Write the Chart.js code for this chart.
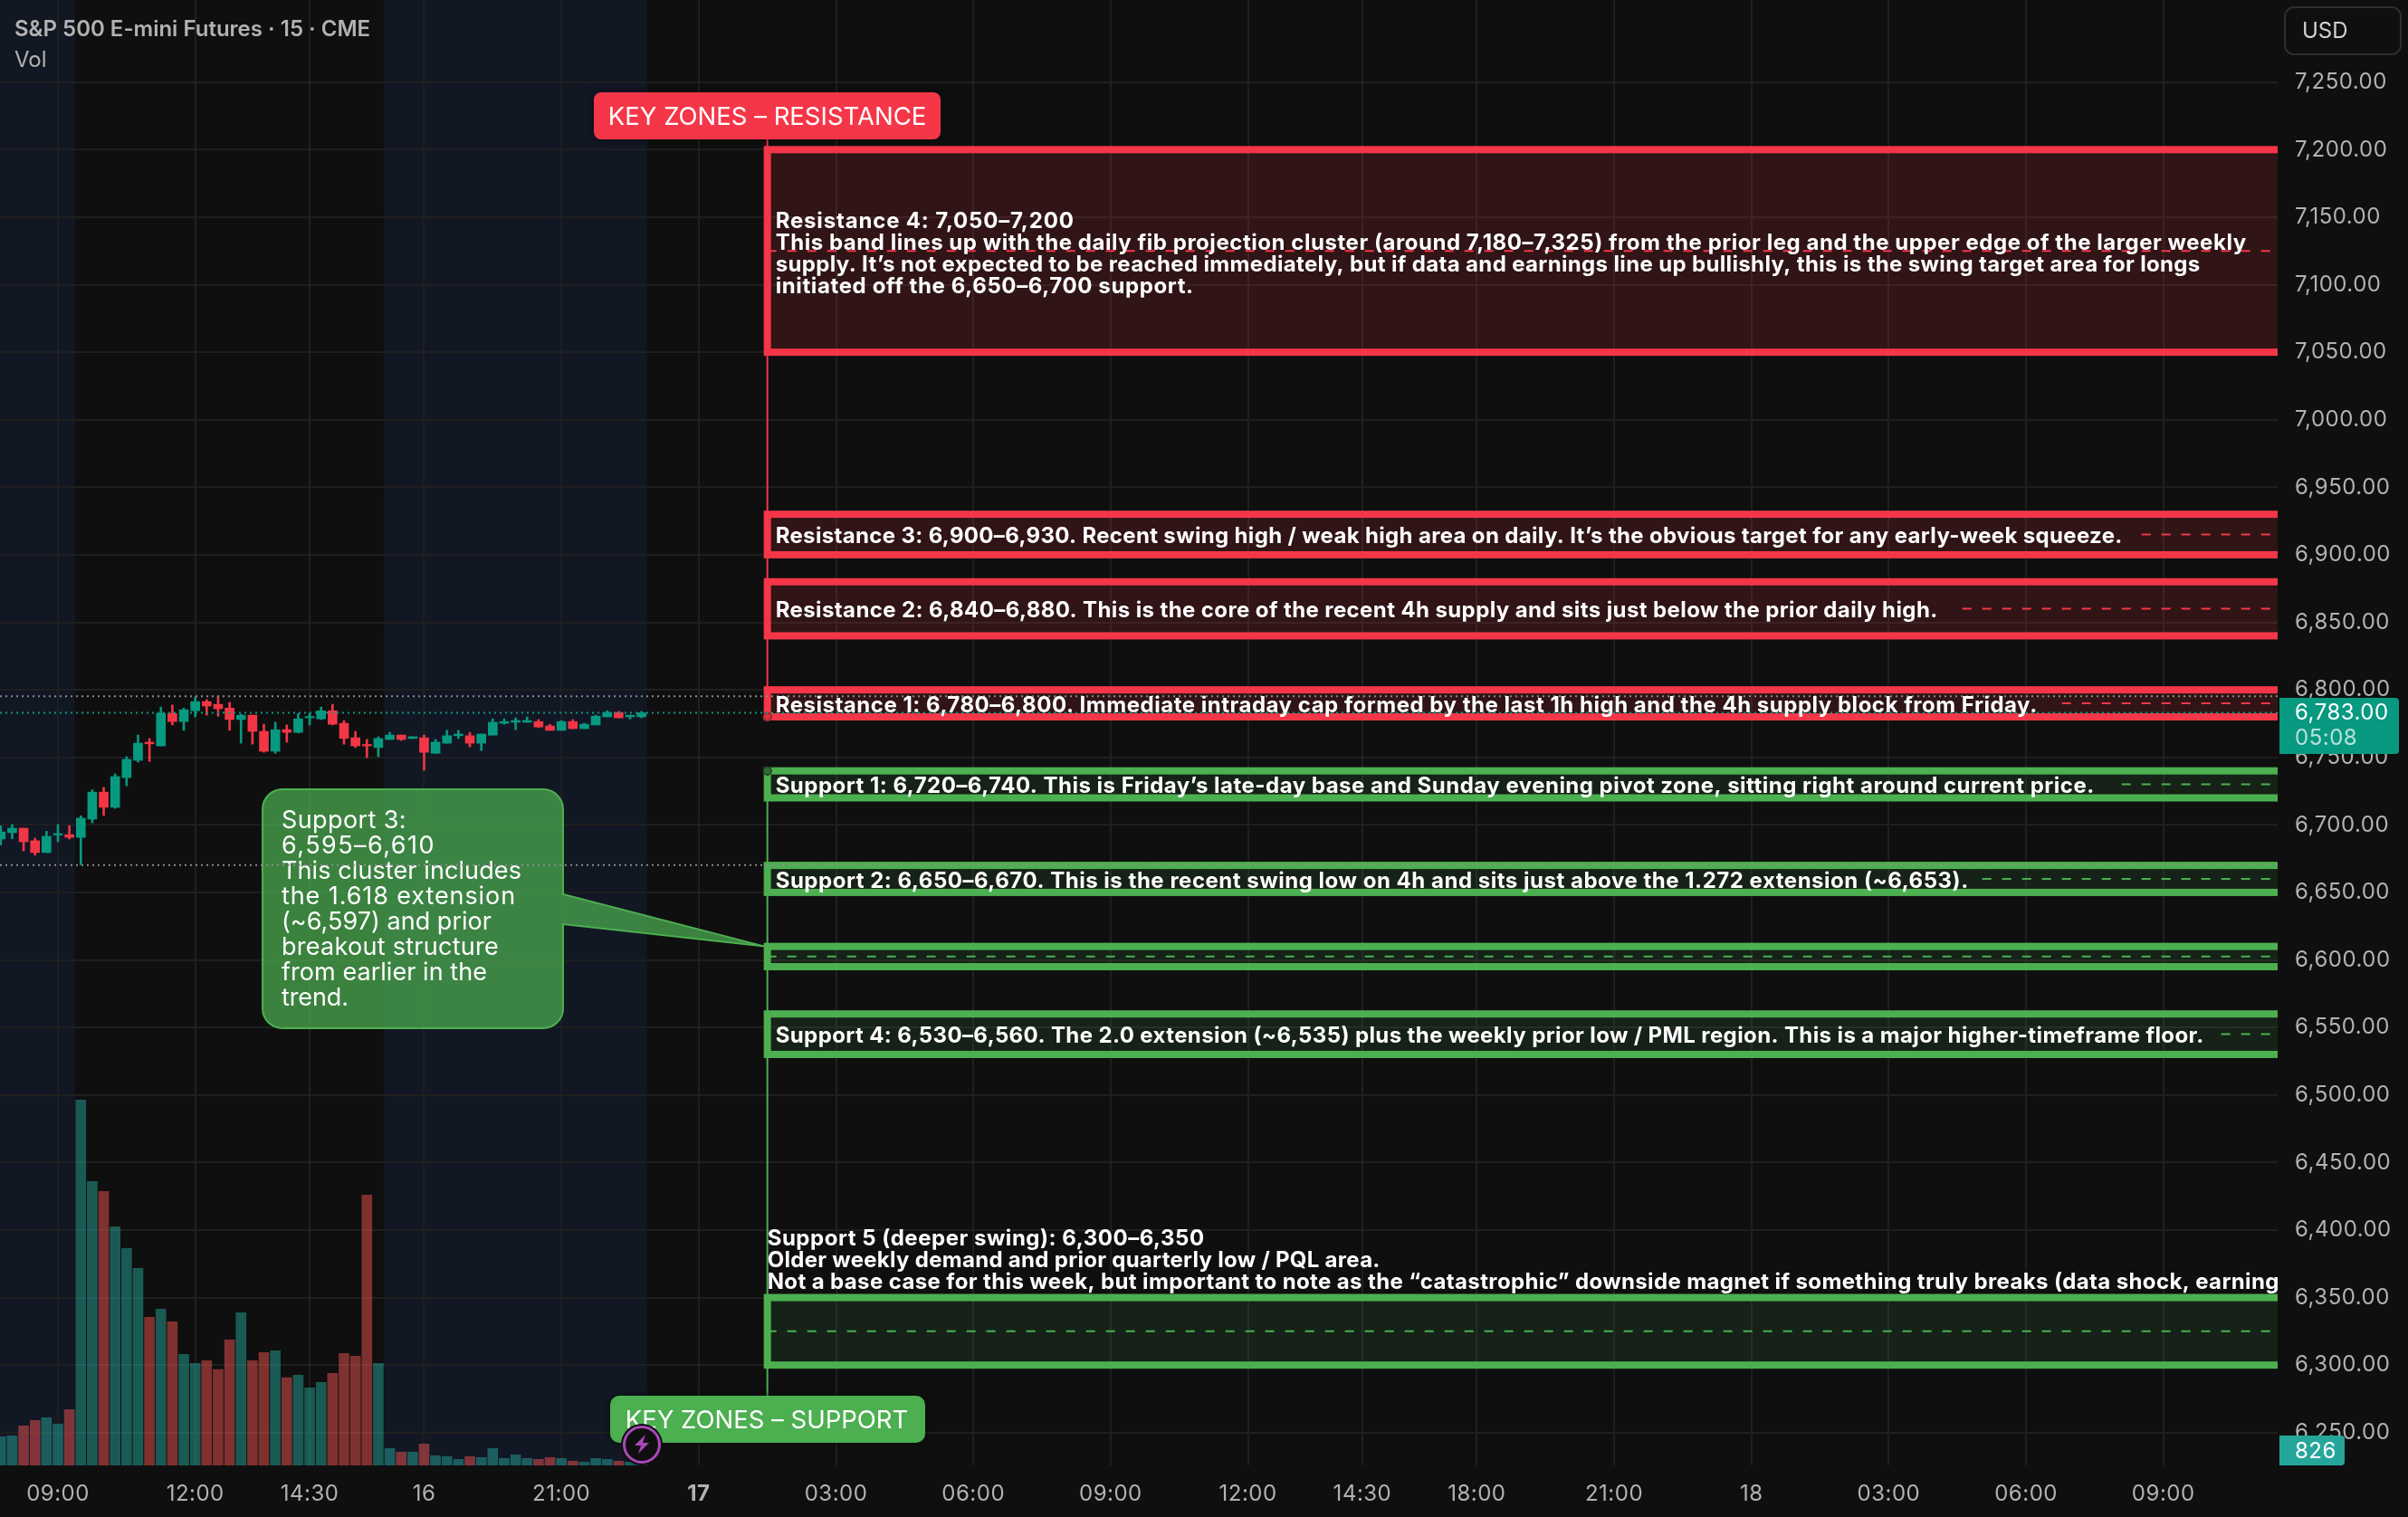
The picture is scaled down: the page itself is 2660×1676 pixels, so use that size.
<!DOCTYPE html>
<html>
<head>
<meta charset="utf-8">
<style>
  html, body { margin: 0; padding: 0; background: #0f0f0f; }
  canvas { display: block; }
</style>
<script src="https://cdn.jsdelivr.net/npm/chart.js@4"></script>
</head>
<body>
<canvas id="chart" width="2660" height="1676"></canvas>
<script>
// 15 min bars, index 0 is the 09:00 bar of the first session
const firstBar = -5;
const candleOpen = [6689.5, 6694.25, 6697.5, 6688.25, 6679.5, 6692.5, 6692.75, 6690.75, 6704.25, 6724.25, 6713, 6735, 6747.75, 6761.25, 6758.5, 6782.5, 6776.5, 6784.5, 6791.25, 6789.25, 6786.5, 6778, 6781.25, 6769.25, 6754.5, 6770.5, 6768.5, 6779.25, 6778.5, 6784.5, 6775.25, 6764.5, 6759.5, 6757.25, 6763.25, 6766.5, 6764, 6764.5, 6753, 6760.5, 6766, 6766, 6760.5, 6766.5, 6775.25, 6776, 6776, 6776.5, 6773.25, 6770, 6776.5, 6771.25, 6774, 6780, 6783.25, 6780, 6780];
const candleHigh = [6699.25, 6700.25, 6697.5, 6690.25, 6695.25, 6700.25, 6699.5, 6706.75, 6726, 6727.75, 6737.75, 6750.5, 6766.5, 6764, 6787.25, 6788.75, 6786.5, 6794.75, 6792.75, 6795.5, 6790.75, 6782, 6781.25, 6774.5, 6776, 6774, 6782.5, 6782.5, 6787.25, 6789.25, 6777.25, 6769.25, 6763.25, 6765.25, 6768.5, 6766.5, 6765.25, 6766.5, 6763.25, 6770, 6770, 6768.5, 6767.25, 6778.5, 6778.5, 6779.25, 6780, 6778, 6774.5, 6777.25, 6778, 6775.25, 6781.25, 6784.5, 6784, 6781.25, 6784];
const candleLow = [6685.25, 6689.75, 6680.75, 6677.5, 6679.5, 6687.5, 6689.5, 6670.5, 6701.5, 6707, 6712.25, 6729, 6746.5, 6747, 6758.5, 6774, 6770, 6780, 6781.25, 6780.5, 6770, 6760.5, 6759.75, 6753.75, 6753, 6761.25, 6768, 6774, 6778, 6774, 6759.75, 6757.25, 6749.75, 6750.5, 6763.25, 6762.5, 6764, 6740.5, 6753, 6760.5, 6764, 6757.75, 6755, 6766.5, 6774.5, 6770.5, 6776, 6772, 6770, 6770, 6771.25, 6771.25, 6774, 6780, 6779.25, 6778.5, 6779.25];
const candleClose = [6694.75, 6697.5, 6687.5, 6679.5, 6691.5, 6693.5, 6690.75, 6705, 6724.25, 6713, 6735.75, 6748.5, 6760.5, 6760, 6782.5, 6776.5, 6785.25, 6791.25, 6788, 6786, 6778, 6781.25, 6769.25, 6754.5, 6770.5, 6768.5, 6778.5, 6780.25, 6784.5, 6774.5, 6764, 6758.5, 6758.5, 6764, 6766.5, 6763.25, 6765.25, 6753.75, 6761.25, 6766, 6767.25, 6760.5, 6767.25, 6776, 6776.5, 6777.25, 6777.25, 6772.5, 6770, 6776.5, 6771.25, 6774.5, 6780.5, 6783.25, 6779.25, 6781.25, 6783];
const volumes = [10900, 11250, 15030, 17100, 18130, 15720, 21220, 138900, 107900, 104100, 90700, 82450, 74900, 56300, 59400, 54600, 42200, 38800, 39800, 36400, 47700, 58000, 39800, 42900, 43600, 33300, 34300, 29500, 31500, 35000, 42550, 41500, 102750, 38800, 6430, 5060, 5060, 8150, 3680, 3340, 2300, 3340, 3000, 6430, 2650, 4020, 2650, 2300, 3000, 2650, 1620, 1270, 2650, 2300, 1620, 1270, 826];

// axes
const priceTicks = [6250, 6300, 6350, 6400, 6450, 6500, 6550, 6600, 6650, 6700, 6750, 6800, 6850, 6900, 6950, 7000, 7050, 7100, 7150, 7200, 7250];
const timeTickBars = [0, 12, 22, 32, 44, 56, 68, 80, 92, 104, 114, 124, 136, 148, 160, 172, 184];
const timeTickLabels = ['09:00', '12:00', '14:30', '16', '21:00', '17', '03:00', '06:00', '09:00', '12:00', '14:30', '18:00', '21:00', '18', '03:00', '06:00', '09:00'];

// extended session shading, in bar units
const sessionStart = [-5.5, 28.5];
const sessionEnd = [1.5, 51.5];

// key zones
const zoneLow = [7050, 6900, 6840, 6780, 6720, 6650, 6595, 6530, 6300];
const zoneHigh = [7200, 6930, 6880, 6800, 6740, 6670, 6610, 6560, 6350];
const zoneStartBar = 62;
const zoneIsResistance = [true, true, true, true, false, false, false, false, false];
const zoneText = [
  '',
  'Resistance 3: 6,900–6,930. Recent swing high / weak high area on daily. It’s the obvious target for any early-week squeeze.',
  'Resistance 2: 6,840–6,880. This is the core of the recent 4h supply and sits just below the prior daily high.',
  'Resistance 1: 6,780–6,800. Immediate intraday cap formed by the last 1h high and the 4h supply block from Friday.',
  'Support 1: 6,720–6,740. This is Friday’s late-day base and Sunday evening pivot zone, sitting right around current price.',
  'Support 2: 6,650–6,670. This is the recent swing low on 4h and sits just above the 1.272 extension (~6,653).',
  '',
  'Support 4: 6,530–6,560. The 2.0 extension (~6,535) plus the weekly prior low / PML region. This is a major higher-timeframe floor.',
  ''
];
const resistance4Lines = [
  'Resistance 4: 7,050–7,200',
  'This band lines up with the daily fib projection cluster (around 7,180–7,325) from the prior leg and the upper edge of the larger weekly',
  'supply. It’s not expected to be reached immediately, but if data and earnings line up bullishly, this is the swing target area for longs',
  'initiated off the 6,650–6,700 support.'
];
const support5Lines = [
  'Support 5 (deeper swing): 6,300–6,350',
  'Older weekly demand and prior quarterly low / PQL area.',
  'Not a base case for this week, but important to note as the “catastrophic” downside magnet if something truly breaks (data shock, earnings'
];
const calloutLines = ['Support 3:', '6,595–6,610', 'This cluster includes', 'the 1.618 extension', '(~6,597) and prior', 'breakout structure', 'from earlier in the', 'trend.'];

// text widths in px, the installed Inter has narrower digits than the picture
const zoneTextWidth = [0, 1488, 1284, 1394, 1457, 1318, 0, 1578, 0];
const resistance4Width = [330, 1625, 1574, 462];
const support5Width = [483, 677, 1684];
const calloutWidth = [138, 170, 265, 259, 232, 240, 227, 74];

// dotted price lines: prior high, last price, prior low
const priceLineValues = [6795.25, 6783, 6670.25];
const priceLineColors = ['#8c8c8c', '#089981', '#8c8c8c'];

const UP = '#089981';
const DOWN = '#f23645';
const RED = '#f43648';
const GREEN = '#4caf50';
const BG = '#0f0f0f';
const FONT = 'Inter, "Noto Sans", sans-serif';
const AXIS_SPACING = '0.5px';

const barX = candleOpen.map((v, i) => firstBar + i);
const isUp = candleOpen.map((v, i) => candleClose[i] >= v);

function roundBox(ctx, x, y, w, h, r) {
  ctx.beginPath();
  ctx.roundRect(x, y, w, h, r);
}

function drawText(ctx, text, x, y, font, color, align, spacing) {
  ctx.font = font;
  ctx.letterSpacing = spacing || '0px';
  ctx.fillStyle = color;
  ctx.textAlign = align || 'left';
  ctx.textBaseline = 'middle';
  ctx.fillText(text, x, y);
}

// letter spacing that makes a text come out at the wanted width
function spacingFor(ctx, text, font, width) {
  ctx.font = font;
  ctx.letterSpacing = '0px';
  return (width - ctx.measureText(text).width) / text.length + 'px';
}

function fitText(ctx, text, x, y, font, width) {
  drawText(ctx, text, x, y, font, '#ffffff', 'left', spacingFor(ctx, text, font, width));
}

// the axis padding chart.js wants would push the plot away from the top edge
function noPadding(axis) {
  axis.paddingTop = 0;
  axis.paddingBottom = 0;
  axis.paddingLeft = 0;
  axis.paddingRight = 0;
}

// background + session shading go under the grid
const backdrop = {
  id: 'backdrop',
  beforeDraw(chart) {
    const { ctx, chartArea, scales } = chart;
    ctx.save();
    ctx.fillStyle = BG;
    ctx.fillRect(0, 0, chart.width, chart.height);
    ctx.fillStyle = '#121724';
    sessionStart.forEach((s, i) => {
      const x1 = Math.max(scales.x.getPixelForValue(s), 0);
      const x2 = scales.x.getPixelForValue(sessionEnd[i]);
      ctx.fillRect(x1, chartArea.top, x2 - x1, chartArea.bottom - chartArea.top);
    });
    ctx.restore();
    // tick labels are a bit wider in the reference
    ctx.letterSpacing = AXIS_SPACING;
  }
};

const annotations = {
  id: 'annotations',
  afterDatasetsDraw(chart) {
    const { ctx, chartArea, scales } = chart;
    const xs = scales.x, ys = scales.y;
    const zoneX = xs.getPixelForValue(zoneStartBar);
    const textFont = '700 24px ' + FONT;

    ctx.save();

    // connector lines from the two labels through the zones
    ctx.lineWidth = 2;
    ctx.strokeStyle = RED;
    ctx.beginPath();
    ctx.moveTo(zoneX, 154);
    ctx.lineTo(zoneX, ys.getPixelForValue(6780));
    ctx.stroke();
    ctx.strokeStyle = GREEN;
    ctx.beginPath();
    ctx.moveTo(zoneX, ys.getPixelForValue(6740));
    ctx.lineTo(zoneX, 1542);
    ctx.stroke();

    // zones, clipped at the right edge of the plot
    ctx.save();
    ctx.beginPath();
    ctx.rect(chartArea.left, chartArea.top, chartArea.right - chartArea.left, chartArea.bottom - chartArea.top);
    ctx.clip();
    zoneLow.forEach((low, i) => {
      const top = ys.getPixelForValue(zoneHigh[i]);
      const bottom = ys.getPixelForValue(low);
      const color = zoneIsResistance[i] ? RED : GREEN;
      ctx.fillStyle = zoneIsResistance[i] ? 'rgba(242,54,69,0.15)' : 'rgba(76,175,80,0.12)';
      ctx.fillRect(zoneX, top, chartArea.right - zoneX, bottom - top);
      ctx.lineWidth = 8;
      ctx.strokeStyle = color;
      ctx.strokeRect(zoneX, top, chartArea.right + 40 - zoneX, bottom - top);

      // middle line, hidden behind a one line text
      let dashFrom = zoneX;
      if (zoneText[i]) {
        const textEnd = zoneX + 8 + zoneTextWidth[i];
        dashFrom = zoneX + 22 * Math.ceil((textEnd + 15 - zoneX) / 22);
      }
      const mid = ys.getPixelForValue((low + zoneHigh[i]) / 2);
      ctx.lineWidth = 2;
      ctx.setLineDash([10, 12]);
      ctx.beginPath();
      ctx.moveTo(dashFrom, mid);
      ctx.lineTo(chartArea.right, mid);
      ctx.stroke();
      ctx.setLineDash([]);
    });
    ctx.restore();

    // ends of the connectors
    [[6780, RED], [6740, GREEN]].forEach(([price, color]) => {
      ctx.beginPath();
      ctx.arc(zoneX, ys.getPixelForValue(price), 4.5, 0, Math.PI * 2);
      ctx.fillStyle = color === RED ? '#d42f3d' : '#2f6b33';
      ctx.fill();
      ctx.lineWidth = 1.5;
      ctx.strokeStyle = color === RED ? '#8a2630' : '#1f3f22';
      ctx.stroke();
    });

    // callout for support 3
    const tipY = ys.getPixelForValue(6610);
    ctx.beginPath();
    const cx = 290, cy = 872, cw = 332, ch = 264, cr = 22;
    ctx.moveTo(cx + cr, cy);
    ctx.arcTo(cx + cw, cy, cx + cw, cy + ch, cr);
    ctx.lineTo(cx + cw, 988);
    ctx.lineTo(zoneX - 3, tipY);
    ctx.lineTo(cx + cw, 1021);
    ctx.arcTo(cx + cw, cy + ch, cx, cy + ch, cr);
    ctx.arcTo(cx, cy + ch, cx, cy, cr);
    ctx.arcTo(cx, cy, cx + cw, cy, cr);
    ctx.closePath();
    ctx.fillStyle = 'rgba(76,175,80,0.72)';
    ctx.fill();
    ctx.lineWidth = 2;
    ctx.strokeStyle = GREEN;
    ctx.stroke();
    calloutLines.forEach((line, i) => {
      fitText(ctx, line, 311, 907 + i * 28, '400 27px ' + FONT, calloutWidth[i]);
    });

    // dotted price lines
    priceLineValues.forEach((v, i) => {
      const y = ys.getPixelForValue(v);
      ctx.strokeStyle = priceLineColors[i];
      ctx.lineWidth = 2;
      ctx.setLineDash([2, 4]);
      ctx.beginPath();
      ctx.moveTo(chartArea.left, y);
      ctx.lineTo(chartArea.right, y);
      ctx.stroke();
      ctx.setLineDash([]);
    });

    // zone texts
    ctx.save();
    ctx.beginPath();
    ctx.rect(chartArea.left, chartArea.top, chartArea.right - chartArea.left, chartArea.bottom - chartArea.top);
    ctx.clip();
    zoneText.forEach((t, i) => {
      if (t) {
        const mid = ys.getPixelForValue((zoneLow[i] + zoneHigh[i]) / 2);
        fitText(ctx, t, zoneX + 9, mid + 2.5, textFont, zoneTextWidth[i]);
      }
    });
    resistance4Lines.forEach((t, i) => fitText(ctx, t, zoneX + 9, 244.5 + i * 24, textFont, resistance4Width[i]));
    support5Lines.forEach((t, i) => fitText(ctx, t, zoneX, 1368.5 + i * 24, textFont, support5Width[i]));
    ctx.restore();

    // the two header labels
    ctx.save();
    ctx.shadowColor = 'rgba(0,0,0,0.5)';
    ctx.shadowBlur = 8;
    ctx.fillStyle = RED;
    roundBox(ctx, 656, 102, 383, 52, 8);
    ctx.fill();
    ctx.fillStyle = GREEN;
    roundBox(ctx, 674, 1542, 348, 52, 10);
    ctx.fill();
    ctx.restore();
    drawText(ctx, 'KEY ZONES – RESISTANCE', 847.5, 130, '400 27.5px ' + FONT, '#ffffff', 'center');
    drawText(ctx, 'KEY ZONES – SUPPORT', 847, 1570, '400 27.5px ' + FONT, '#ffffff', 'center');

    // bolt marker on the last bar
    const bx = 709, by = 1596;
    ctx.beginPath();
    ctx.arc(bx, by, 23, 0, Math.PI * 2);
    ctx.fillStyle = BG;
    ctx.fill();
    ctx.beginPath();
    ctx.arc(bx, by, 19.5, 0, Math.PI * 2);
    ctx.lineWidth = 3;
    ctx.strokeStyle = '#ab47bc';
    ctx.stroke();
    ctx.beginPath();
    [[4, -11], [-8, 1], [-1, 1], [-4, 10], [8, -2], [1, -2]].forEach(([dx, dy], i) => {
      if (i === 0) ctx.moveTo(bx + dx, by + dy);
      else ctx.lineTo(bx + dx, by + dy);
    });
    ctx.closePath();
    ctx.fillStyle = '#ab47bc';
    ctx.fill();

    // last price and last volume tags on the axis
    ctx.fillStyle = UP;
    roundBox(ctx, 2518, 771, 132, 62, [0, 4, 4, 0]);
    ctx.fill();
    drawText(ctx, '6,783.00', 2535, 788, '400 24px ' + FONT, '#ffffff', 'left', AXIS_SPACING);
    drawText(ctx, '05:08', 2535, 816, '400 24px ' + FONT, 'rgba(255,255,255,0.7)', 'left', AXIS_SPACING);
    ctx.fillStyle = '#26a69a';
    roundBox(ctx, 2518, 1586, 72, 33, [0, 4, 4, 0]);
    ctx.fill();
    drawText(ctx, '826', 2535, 1604, '400 24px ' + FONT, '#ffffff', 'left', AXIS_SPACING);

    // currency button
    ctx.lineWidth = 2;
    ctx.strokeStyle = '#2e2e2e';
    ctx.fillStyle = BG;
    roundBox(ctx, 2524, 8, 128, 52, 10);
    ctx.fill();
    ctx.stroke();
    drawText(ctx, 'USD', 2543, 35, '400 24px ' + FONT, '#d1d1d1');

    // symbol line
    drawText(ctx, 'S&P 500 E-mini Futures · 15 · CME', 16, 33, '600 24px ' + FONT, '#b2b2b2');
    drawText(ctx, 'Vol', 16, 67, '400 24px ' + FONT, '#b2b2b2');

    ctx.restore();
  }
};

new Chart(document.getElementById('chart').getContext('2d'), {
  type: 'bar',
  data: {
    datasets: [
      {
        label: 'Body',
        order: 1,
        grouped: false,
        barThickness: 10,
        yAxisID: 'y',
        data: barX.map((x, i) => ({ x: x, y: [candleOpen[i], candleClose[i]] })),
        backgroundColor: isUp.map(u => (u ? UP : DOWN))
      },
      {
        label: 'Wick',
        order: 2,
        grouped: false,
        barThickness: 2,
        yAxisID: 'y',
        data: barX.map((x, i) => ({ x: x, y: [candleLow[i], candleHigh[i]] })),
        backgroundColor: isUp.map(u => (u ? UP : DOWN))
      },
      {
        label: 'Vol',
        order: 3,
        grouped: false,
        barThickness: 11,
        yAxisID: 'yVol',
        data: barX.map((x, i) => ({ x: x, y: volumes[i] })),
        backgroundColor: isUp.map(u => (u ? 'rgba(38,166,154,0.5)' : 'rgba(239,83,80,0.5)'))
      }
    ]
  },
  options: {
    responsive: false,
    devicePixelRatio: 1,
    animation: false,
    layout: { padding: 0, autoPadding: false },
    plugins: { legend: { display: false }, tooltip: { enabled: false } },
    scales: {
      x: {
        type: 'linear',
        offset: false,
        min: -5.063,
        max: 193.99,
        border: { display: false },
        grid: { offset: false, color: '#1f1f1f', lineWidth: 2, drawTicks: false },
        afterBuildTicks: axis => { axis.ticks = timeTickBars.map(v => ({ value: v })); },
        afterFit: axis => { axis.height = 57; noPadding(axis); },
        ticks: {
          autoSkip: false,
          maxRotation: 0,
          padding: 17,
          color: '#b2b2b2',
          font: ctx => ({ family: FONT, size: 24, weight: ctx.index === 5 ? '700' : '400' }),
          callback: (value, index) => timeTickLabels[index]
        }
      },
      y: {
        type: 'linear',
        position: 'right',
        min: 6225.7,
        max: 7310.8,
        beginAtZero: false,
        border: { display: false },
        grid: { color: '#1f1f1f', lineWidth: 2, drawTicks: false },
        afterBuildTicks: axis => { axis.ticks = priceTicks.map(v => ({ value: v })); },
        afterFit: axis => { axis.width = 144; noPadding(axis); },
        ticks: {
          autoSkip: false,
          padding: 19,
          color: '#b2b2b2',
          font: { family: FONT, size: 24, weight: '400' },
          callback: value => value.toLocaleString('en-US', { minimumFractionDigits: 2, maximumFractionDigits: 2 })
        }
      },
      yVol: {
        type: 'linear',
        display: false,
        min: 0,
        max: 556936
      }
    }
  },
  plugins: [backdrop, annotations]
});
</script>
</body>
</html>
